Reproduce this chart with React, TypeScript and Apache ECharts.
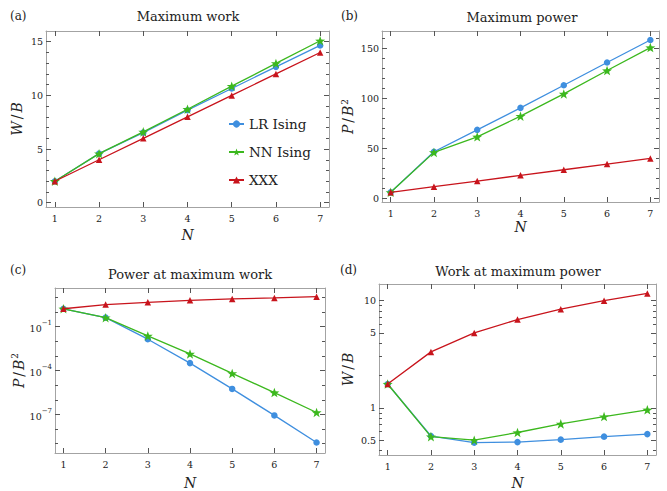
import React, { useEffect, useRef } from "react";
import * as echarts from "echarts";

// ---------- data ----------
const N_VALUES = [1, 2, 3, 4, 5, 6, 7];
const SERIES_NAMES = ["LR Ising", "NN Ising", "XXX"];

// (a) Maximum work, W/B
const maxWorkLR = [2, 4.57, 6.53, 8.62, 10.64, 12.66, 14.66];
const maxWorkNN = [2, 4.57, 6.6, 8.71, 10.86, 12.98, 15.09];
const maxWorkXXX = [2, 4, 6, 8, 10, 12, 14];

// (b) Maximum power, P/B^2
const maxPowerLR = [5.67, 46.3, 68.3, 90.3, 113, 135.7, 158.3];
const maxPowerNN = [5.67, 45.7, 61.3, 82, 104.3, 127.7, 150.7];
const maxPowerXXX = [5.67, 11.3, 17, 22.7, 28.3, 34, 39.7];

// (c) Power at maximum work, P/B^2 (log)
const powerAtWorkLR = [1.66, 0.41, 0.0138, 3.2e-4, 5.5e-6, 8.5e-8, 1.2e-9];
const powerAtWorkNN = [1.66, 0.41, 0.023, 1.35e-3, 6.3e-5, 3.1e-6, 1.35e-7];
const powerAtWorkXXX = [1.66, 3.2, 4.6, 6.3, 7.8, 9.1, 11.2];

// (d) Work at maximum power, W/B (log)
const workAtPowerLR = [1.67, 0.547, 0.475, 0.48, 0.506, 0.54, 0.57];
const workAtPowerNN = [1.67, 0.54, 0.5, 0.59, 0.71, 0.83, 0.96];
const workAtPowerXXX = [1.67, 3.33, 5, 6.67, 8.33, 10, 11.67];

// ---------- ticks ----------
const X_TICKS = [1, 2, 3, 4, 5, 6, 7];
const A_Y_MAJOR = [0, 5, 10, 15];
const A_Y_MINOR = [1, 2, 3, 4, 6, 7, 8, 9, 11, 12, 13, 14];
const B_Y_MAJOR = [0, 50, 100, 150];
const B_Y_MINOR = [10, 20, 30, 40, 60, 70, 80, 90, 110, 120, 130, 140, 160];
const C_Y_MAJOR = [1e-7, 1e-4, 1e-1];
const C_Y_MINOR = [1e-9, 1e-8, 1e-6, 1e-5, 1e-3, 1e-2, 1, 10];
const D_Y_MAJOR = [0.5, 1, 5, 10];
const D_Y_MINOR = [0.4, 0.6, 0.7, 0.8, 0.9, 2, 3, 4, 6, 7, 8, 9];

const TITLES = ["Maximum work", "Maximum power", "Power at maximum work", "Work at maximum power"];
const PANEL_LABELS = ["(a)", "(b)", "(c)", "(d)"];

// ---------- styles ----------
const SERIF = "DejaVu Serif";
const FRAME = "#a3a3a3";
const TICK = "#555555";
const TEXT = "#222222";
const BLUE = "#3f8fdf";
const GREEN = "#3cb81e";
const RED = "#c8141c";
const STAR =
  "path://M0,-10L2.35,-3.24L9.51,-3.09L3.8,1.24L5.88,8.09L0,4L-5.88,8.09L-3.8,1.24L-9.51,-3.09L-2.35,-3.24Z";

type Panel = {
  grid: { left: number; top: number; width: number; height: number };
  yType: "value" | "log";
  yMin: number;
  yMax: number;
  yMajor: number[];
  yMinor: number[];
  yFormatter: (v: number) => string;
  yName: string;
  yNameGap: number;
  xNameGap: number;
  data: number[][];
  title: { x: number; y: number };
  label: { x: number; y: number };
};

const supFormatter = (v: number) => {
  const e = Math.round(Math.log10(v));
  return "{b|10}{s|" + (e < 0 ? "\u2212" + Math.abs(e) : String(e)) + "}";
};
const plainFormatter = (v: number) => String(+v.toPrecision(6));

const PANELS: Panel[] = [
  {
    grid: { left: 46, top: 31, width: 283, height: 176 },
    yType: "value",
    yMin: -0.4,
    yMax: 16,
    yMajor: A_Y_MAJOR,
    yMinor: A_Y_MINOR,
    yFormatter: plainFormatter,
    yName: "{i|W}{r|/}{i|B}",
    yNameGap: 22,
    xNameGap: 21,
    data: [maxWorkLR, maxWorkNN, maxWorkXXX],
    title: { x: 188, y: 16 },
    label: { x: 10, y: 16 },
  },
  {
    grid: { left: 382, top: 31, width: 277, height: 171 },
    yType: "value",
    yMin: -4,
    yMax: 167.3,
    yMajor: B_Y_MAJOR,
    yMinor: B_Y_MINOR,
    yFormatter: plainFormatter,
    yName: "{i|P}{r|/}{i|B}{s|2}",
    yNameGap: 26,
    xNameGap: 18,
    data: [maxPowerLR, maxPowerNN, maxPowerXXX],
    title: { x: 522, y: 17 },
    label: { x: 341, y: 16 },
  },
  {
    grid: { left: 55, top: 288, width: 270, height: 167 },
    yType: "log",
    yMin: 2.29e-10,
    yMax: 43.6,
    yMajor: C_Y_MAJOR,
    yMinor: C_Y_MINOR,
    yFormatter: supFormatter,
    yName: "{i|P}{r|/}{i|B}{s|2}",
    yNameGap: 28,
    xNameGap: 23,
    data: [powerAtWorkLR, powerAtWorkNN, powerAtWorkXXX],
    title: { x: 190, y: 274 },
    label: { x: 10, y: 270 },
  },
  {
    grid: { left: 379, top: 284, width: 277, height: 173 },
    yType: "log",
    yMin: 0.364,
    yMax: 14.3,
    yMajor: D_Y_MAJOR,
    yMinor: D_Y_MINOR,
    yFormatter: plainFormatter,
    yName: "{i|W}{r|/}{i|B}",
    yNameGap: 24,
    xNameGap: 21,
    data: [workAtPowerLR, workAtPowerNN, workAtPowerXXX],
    title: { x: 518, y: 271 },
    label: { x: 340, y: 270 },
  },
];

const NAME_RICH = {
  i: { fontFamily: SERIF, fontStyle: "italic", fontSize: 14, color: TEXT },
  r: { fontFamily: SERIF, fontSize: 14, color: TEXT, padding: [0, 2, 0, 2] },
  s: { fontFamily: SERIF, fontSize: 9, color: TEXT, verticalAlign: "top", padding: [0, 0, 7, 1] },
};

function buildOption() {
  const grids: any[] = [];
  const xAxes: any[] = [];
  const yAxes: any[] = [];
  const series: any[] = [];
  const graphics: any[] = [];

  PANELS.forEach((p, gi) => {
    grids.push({ ...p.grid, containLabel: false });

    const xBase = {
      type: "value",
      gridIndex: gi,
      min: 0.8,
      max: 7.2,
      splitLine: { show: false },
      axisLine: { show: true, onZero: false, lineStyle: { color: FRAME, width: 1 } },
    };
    xAxes.push({
      ...xBase,
      position: "bottom",
      axisTick: { show: true, inside: true, length: 5, lineStyle: { color: TICK }, customValues: X_TICKS },
      axisLabel: {
        show: true,
        customValues: X_TICKS,
        margin: 6,
        fontFamily: SERIF,
        fontSize: 9.5,
        color: TEXT,
        formatter: (v: number) => String(v),
      },
      name: "N",
      nameLocation: "middle",
      nameGap: p.xNameGap,
      nameTextStyle: { fontFamily: SERIF, fontStyle: "italic", fontSize: 14, color: TEXT },
    });
    xAxes.push({
      ...xBase,
      position: "top",
      axisTick: { show: true, inside: true, length: 5, lineStyle: { color: TICK }, customValues: X_TICKS },
      axisLabel: { show: false },
    });

    const yBase = {
      type: p.yType,
      logBase: 10,
      gridIndex: gi,
      min: p.yMin,
      max: p.yMax,
      splitLine: { show: false },
    };
    const mainYIndex = yAxes.length;
    yAxes.push({
      ...yBase,
      position: "left",
      axisLine: { show: true, onZero: false, lineStyle: { color: FRAME, width: 1 } },
      axisTick: { show: true, inside: true, length: 5, lineStyle: { color: TICK }, customValues: p.yMajor },
      axisLabel: {
        show: true,
        customValues: p.yMajor,
        margin: 3,
        fontFamily: SERIF,
        fontSize: 9.5,
        color: TEXT,
        formatter: p.yFormatter,
        rich: {
          b: { fontFamily: SERIF, fontSize: 9.5, color: TEXT, lineHeight: 14, verticalAlign: "bottom" },
          s: { fontFamily: SERIF, fontSize: 7, color: TEXT, lineHeight: 14, verticalAlign: "top" },
        },
      },
      name: p.yName,
      nameLocation: "middle",
      nameGap: p.yNameGap,
      nameTextStyle: { fontFamily: SERIF, fontSize: 14, color: TEXT, rich: NAME_RICH },
    });
    yAxes.push({
      ...yBase,
      position: "left",
      axisLine: { show: false },
      axisTick: { show: true, inside: true, length: 3, lineStyle: { color: TICK }, customValues: p.yMinor },
      axisLabel: { show: false },
    });
    yAxes.push({
      ...yBase,
      position: "right",
      axisLine: { show: true, onZero: false, lineStyle: { color: FRAME, width: 1 } },
      axisTick: { show: true, inside: true, length: 5, lineStyle: { color: TICK }, customValues: p.yMajor },
      axisLabel: { show: false },
    });
    yAxes.push({
      ...yBase,
      position: "right",
      axisLine: { show: false },
      axisTick: { show: true, inside: true, length: 3, lineStyle: { color: TICK }, customValues: p.yMinor },
      axisLabel: { show: false },
    });

    const styles = [
      { color: BLUE, symbol: "circle", size: 6.5 },
      { color: GREEN, symbol: STAR, size: 10 },
      { color: RED, symbol: "triangle", size: 6.5 },
    ];
    p.data.forEach((vals, si) => {
      const st = styles[si];
      series.push({
        type: "line",
        name: SERIES_NAMES[si],
        xAxisIndex: gi * 2,
        yAxisIndex: mainYIndex,
        data: N_VALUES.map((n, k) => [n, vals[k]]),
        symbol: st.symbol,
        symbolSize: st.size,
        symbolKeepAspect: true,
        showSymbol: true,
        lineStyle: { color: st.color, width: 1.3 },
        itemStyle: { color: st.color },
        emphasis: { disabled: true },
        z: 3 + si,
      });
    });

    graphics.push({
      type: "text",
      x: p.title.x,
      y: p.title.y,
      style: {
        text: TITLES[gi],
        font: "13px " + SERIF,
        fill: TEXT,
        textAlign: "center",
        textVerticalAlign: "middle",
      },
    });
    graphics.push({
      type: "text",
      x: p.label.x,
      y: p.label.y,
      style: {
        text: PANEL_LABELS[gi],
        font: "12px " + SERIF,
        fill: TEXT,
        textAlign: "left",
        textVerticalAlign: "middle",
      },
    });
  });

  return {
    animation: false,
    backgroundColor: "#ffffff",
    textStyle: { fontFamily: SERIF },
    grid: grids,
    xAxis: xAxes,
    yAxis: yAxes,
    series,
    graphic: graphics,
    legend: {
      show: true,
      data: SERIES_NAMES,
      orient: "vertical",
      left: 223,
      top: 111,
      itemWidth: 15,
      itemHeight: 9,
      itemGap: 12,
      selectedMode: false,
      textStyle: { fontFamily: SERIF, fontSize: 13.5, color: TEXT, lineHeight: 16 },
    },
  };
}

export default function App() {
  const ref = useRef<HTMLDivElement>(null);
  useEffect(() => {
    document.body.style.margin = "0";
    if (!ref.current) return;
    const chart = echarts.init(ref.current, undefined, { renderer: "svg" });
    chart.setOption(buildOption() as any);
    return () => chart.dispose();
  }, []);
  return <div ref={ref} style={{ width: 667, height: 491 }} />;
}
